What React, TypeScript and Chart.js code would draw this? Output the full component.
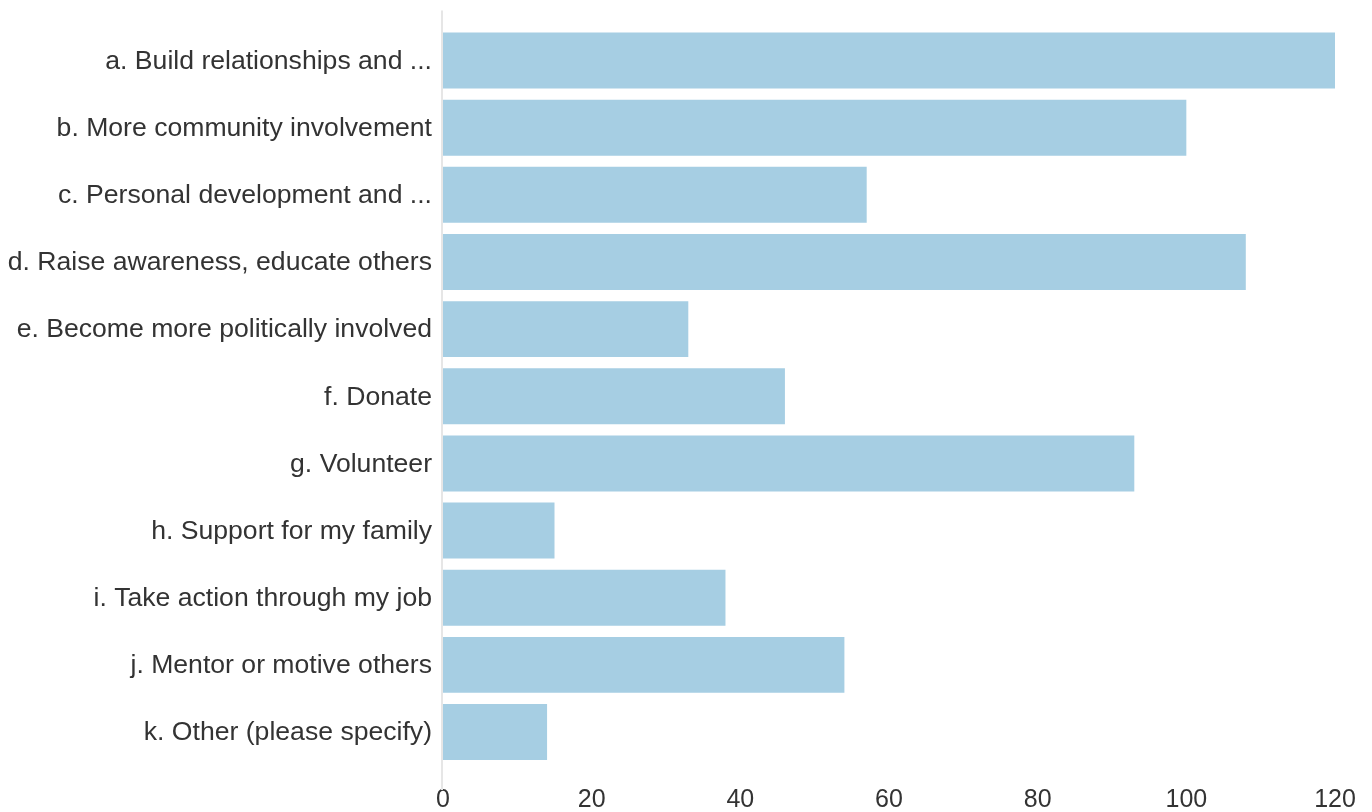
import React, { useEffect, useRef } from "react";
import { Chart, registerables } from "chart.js";

Chart.register(...registerables);

const categories = [
  "a. Build relationships and ...",
  "b. More community involvement",
  "c. Personal development and ...",
  "d. Raise awareness, educate others",
  "e. Become more politically involved",
  "f. Donate",
  "g. Volunteer",
  "h. Support for my family",
  "i. Take action through my job",
  "j. Mentor or motive others",
  "k. Other (please specify)",
];
const values = [120, 100, 57, 108, 33, 46, 93, 15, 38, 54, 14];
const xTicks = [0, 20, 40, 60, 80, 100, 120];

const FONT = "'Liberation Sans', Arial, sans-serif";

const axisLinePlugin = {
  id: "axisLine",
  afterDatasetsDraw(chart: any) {
    const { ctx, chartArea, scales } = chart;
    const x = Math.round(scales.x.getPixelForValue(0)) - 1;
    ctx.save();
    ctx.strokeStyle = "#e6e6e6";
    ctx.lineWidth = 2;
    ctx.beginPath();
    ctx.moveTo(x, chartArea.top - 16.4);
    ctx.lineTo(x, chartArea.bottom + 24.4);
    ctx.stroke();
    ctx.restore();
  },
};

export default function App() {
  const ref = useRef<HTMLCanvasElement | null>(null);
  useEffect(() => {
    document.body.style.margin = "0";
    const chart = new Chart(ref.current as HTMLCanvasElement, {
      type: "bar",
      data: {
        labels: categories,
        datasets: [
          {
            data: values,
            backgroundColor: "#a6cee3",
            borderWidth: 0,
            barPercentage: 0.8333,
            categoryPercentage: 1,
          },
        ],
      },
      options: {
        indexAxis: "y",
        responsive: false,
        animation: false,
        layout: { padding: { top: 26.4, right: 37, left: 0, bottom: 0 } },
        plugins: { legend: { display: false }, tooltip: { enabled: false } },
        scales: {
          x: {
            min: 0,
            max: 120,
            afterBuildTicks: (s: any) => {
              s.ticks = xTicks.map((v) => ({ value: v }));
            },
            afterFit: (s: any) => {
              s.height = 46.4;
              s.paddingLeft = 0;
              s.paddingRight = 0;
            },
            grid: { display: false, drawTicks: false },
            border: { display: false },
            ticks: {
              color: "#333333",
              font: { family: FONT, size: 25 },
              padding: 20,
              maxRotation: 0,
            },
          },
          y: {
            afterFit: (s: any) => {
              s.width = 443;
            },
            grid: { display: false, drawTicks: false },
            border: { display: false },
            ticks: {
              color: "#333333",
              font: { family: FONT, size: 26.6 },
              padding: 11,
              labelOffset: 1,
              autoSkip: false,
            },
          },
        },
      },
      plugins: [axisLinePlugin],
    });
    return () => chart.destroy();
  }, []);
  return (
    <div style={{ width: 1372, height: 812 }}>
      <canvas ref={ref} width={1372} height={812} />
    </div>
  );
}
